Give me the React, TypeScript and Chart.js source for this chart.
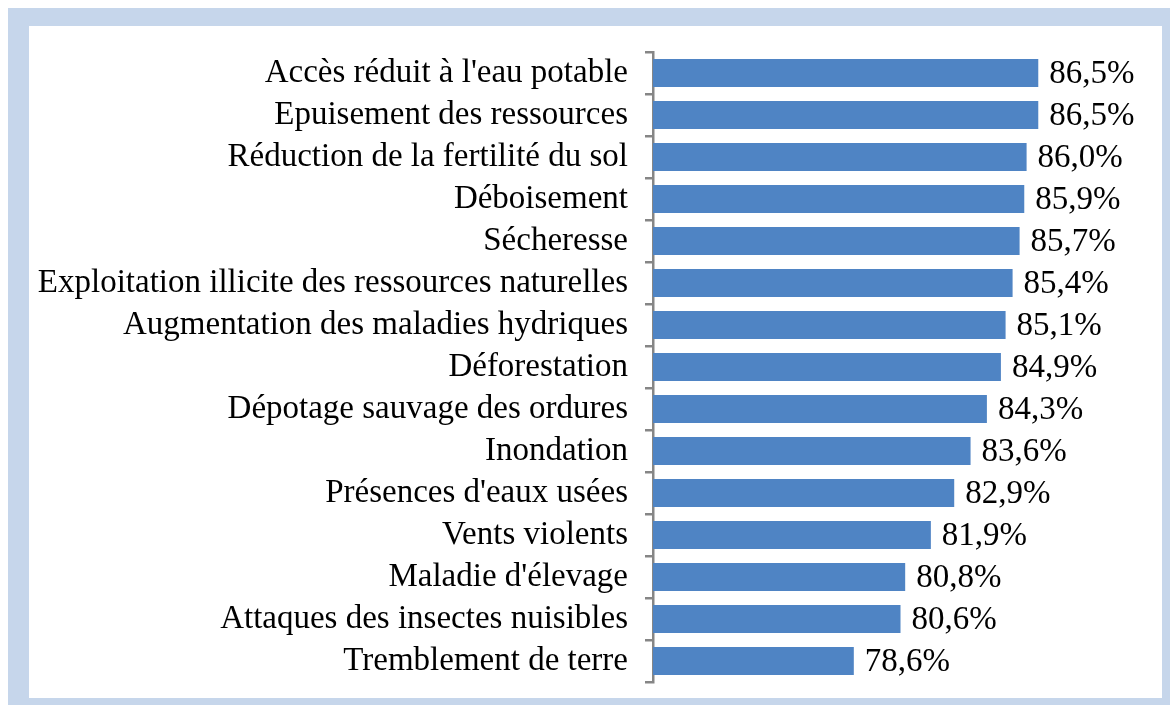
import React, { useEffect, useRef } from "react";
import { Chart, registerables } from "chart.js";

Chart.register(...registerables);

const categories: string[] = [
  "Accès réduit à l'eau potable",
  "Epuisement des ressources",
  "Réduction de la fertilité du sol",
  "Déboisement",
  "Sécheresse",
  "Exploitation illicite des ressources naturelles",
  "Augmentation des maladies hydriques",
  "Déforestation",
  "Dépotage sauvage des ordures",
  "Inondation",
  "Présences d'eaux usées",
  "Vents violents",
  "Maladie d'élevage",
  "Attaques des insectes nuisibles",
  "Tremblement de terre",
];

const values: number[] = [86.5, 86.5, 86.0, 85.9, 85.7, 85.4, 85.1, 84.9, 84.3, 83.6, 82.9, 81.9, 80.8, 80.6, 78.6];

const axisMin = 70;
const axisMax = 90;

const FONT = '"Liberation Serif", "Times New Roman", serif';
const FONT_SIZE = 33;

const fmt = (v: number) => v.toFixed(1).replace(".", ",") + "%";

export default function App() {
  const ref = useRef<HTMLCanvasElement | null>(null);

  useEffect(() => {
    if (!ref.current) return;
    const labelPlugin = {
      id: "valueLabels",
      afterDatasetsDraw(chart: any) {
        const ctx = chart.ctx;
        const meta = chart.getDatasetMeta(0);
        ctx.save();
        ctx.font = `${FONT_SIZE}px ${FONT}`;
        ctx.fillStyle = "#000";
        ctx.textAlign = "left";
        ctx.textBaseline = "middle";
        meta.data.forEach((bar: any, i: number) => {
          ctx.fillText(fmt(values[i]), bar.x + 11, bar.y + 1);
        });
        ctx.restore();
      },
    };
    const chart = new Chart(ref.current, {
      type: "bar",
      data: {
        labels: categories,
        datasets: [
          {
            data: values,
            backgroundColor: "#4f84c4",
            borderWidth: 0,
            barPercentage: 0.667,
            categoryPercentage: 1,
          },
        ],
      },
      options: {
        indexAxis: "y",
        responsive: false,
        animation: false,
        devicePixelRatio: 1,
        layout: { padding: { top: 52, bottom: 23, right: 50, left: 0 } },
        plugins: { legend: { display: false }, tooltip: { enabled: false } },
        scales: {
          x: { min: axisMin, max: axisMax, display: false },
          y: {
            afterFit: (s: any) => {
              s.width = 653;
              s.paddingTop = 0;
              s.paddingBottom = 0;
            },
            ticks: {
              font: { family: FONT, size: FONT_SIZE },
              color: "#000",
              padding: 17,
              autoSkip: false,
            },
            grid: {
              offset: true,
              drawOnChartArea: false,
              drawTicks: true,
              tickLength: 8,
              color: "#868686",
              lineWidth: 2.5,
            },
            border: { display: true, color: "#868686", width: 2.5 },
          },
        },
      },
      plugins: [labelPlugin],
    } as any);
    return () => chart.destroy();
  }, []);

  return (
    <div>
      <div
        style={{
          position: "fixed",
          left: 8,
          top: 8,
          width: 1162,
          height: 697,
          background: "#c6d6eb",
        }}
      />
      <div
        style={{
          position: "fixed",
          left: 29,
          top: 26,
          width: 1133,
          height: 672,
          background: "#ffffff",
        }}
      />
      <canvas
        ref={ref}
        width={1170}
        height={705}
        style={{ position: "fixed", left: 0, top: 0, width: 1170, height: 705 }}
      />
    </div>
  );
}
